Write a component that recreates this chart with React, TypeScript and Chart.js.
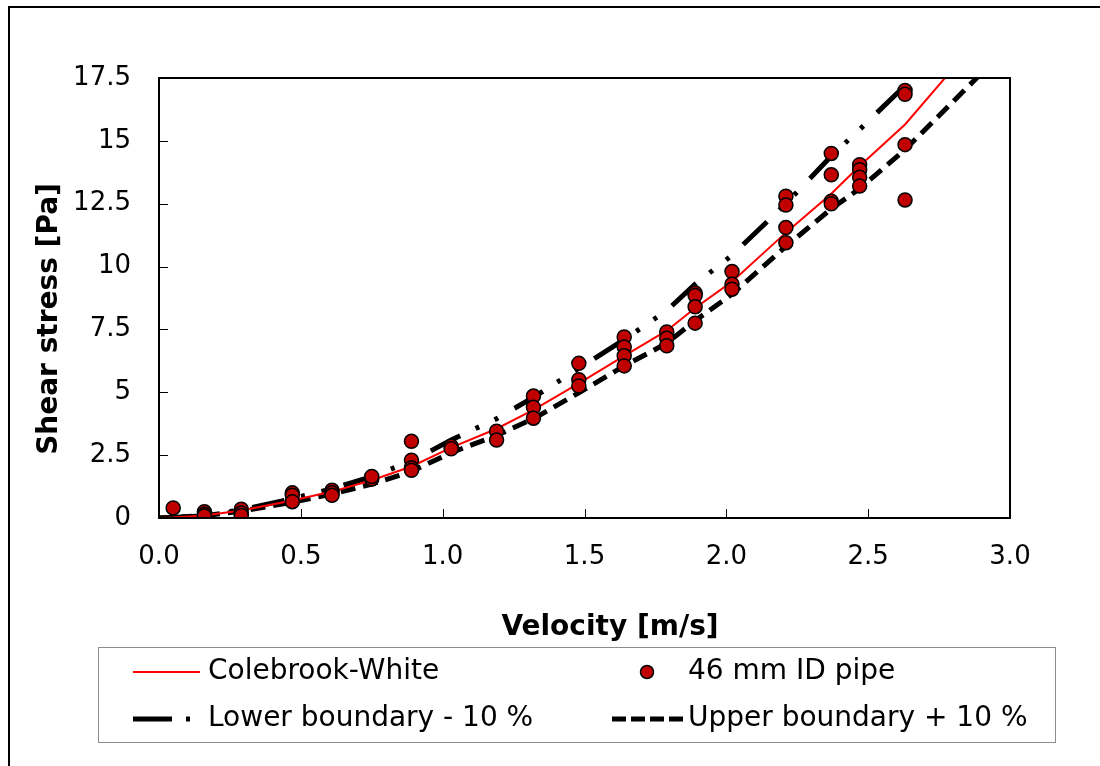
import React, { useEffect, useRef } from "react";
import { Chart, registerables } from "chart.js";

Chart.register(...registerables);

// Model curve velocities [m/s]
const curveVelocity = [0, 0.05, 0.16, 0.29, 0.47, 0.61, 0.75, 0.89, 1.03, 1.19, 1.32, 1.48, 1.64, 1.79, 1.89, 2.02, 2.21, 2.37, 2.47, 2.63, 2.9];
// Colebrook-White prediction [Pa]
const colebrookWhite = [0, 0.02, 0.1, 0.3, 0.7, 1.05, 1.5, 2.05, 2.8, 3.55, 4.3, 5.35, 6.45, 7.45, 8.35, 9.4, 11.35, 12.9, 14.0, 15.65, 19.2];
// "Lower boundary - 10 %" (dash-dot curve)
const lowerBoundary = [0, 0.02, 0.11, 0.33, 0.77, 1.16, 1.65, 2.26, 3.1, 3.95, 4.8, 5.95, 7.1, 8.25, 9.3, 10.45, 12.5, 14.4, 15.45, 17.2, 21.1];
// "Upper boundary + 10 %" (dashed curve)
const upperBoundary = [0, 0.02, 0.09, 0.27, 0.63, 0.95, 1.35, 1.85, 2.6, 3.28, 3.95, 4.98, 6.05, 6.95, 7.85, 8.9, 10.8, 12.3, 13.1, 14.65, 17.7];

// Measured data, 46 mm ID pipe
const pipeVelocity = [
  0.05,
  0.16, 0.16, 0.16,
  0.29, 0.29, 0.29,
  0.47, 0.47, 0.47,
  0.61, 0.61, 0.61,
  0.75, 0.75,
  0.89, 0.89, 0.89, 0.89,
  1.03, 1.03,
  1.19, 1.19,
  1.32, 1.32, 1.32,
  1.48, 1.48, 1.48,
  1.64, 1.64, 1.64, 1.64,
  1.79, 1.79, 1.79,
  1.89, 1.89, 1.89, 1.89,
  2.02, 2.02, 2.02,
  2.21, 2.21, 2.21, 2.21,
  2.37, 2.37, 2.37, 2.37,
  2.47, 2.47, 2.47, 2.47,
  2.63, 2.63, 2.63, 2.63,
];
const pipeShear = [
  0.4,
  0.25, 0.15, 0.08,
  0.35, 0.2, 0.1,
  1.0, 0.9, 0.65,
  1.1, 1.0, 0.9,
  1.55, 1.65,
  3.05, 2.3, 2.0, 1.9,
  2.85, 2.75,
  3.45, 3.1,
  4.85, 4.4, 3.97,
  6.15, 5.5, 5.25,
  7.2, 6.8, 6.45, 6.05,
  7.4, 7.15, 6.85,
  8.95, 8.85, 8.4, 7.75,
  9.8, 9.3, 9.1,
  12.8, 12.45, 11.55, 10.95,
  14.5, 13.65, 12.6, 12.5,
  14.05, 13.85, 13.55, 13.2,
  17.0, 16.85, 14.85, 12.65,
];

const xAxisRange = [0, 3];
const yAxisRange = [0, 17.5];
const xStep = 0.5;
const yStep = 2.5;

const xTitle = "Velocity [m/s]";
const yTitle = "Shear stress [Pa]";
const legendLabels = ["Colebrook-White", "46 mm ID pipe", "Lower boundary - 10 %", "Upper boundary + 10 %"];

const FONT = "'DejaVu Sans', Verdana, sans-serif";
const RED = "#ff0000";
const POINT_FILL = "#c00000";
const DASH_DOT = [33, 17, 4, 17, 4, 19];
const DASHED = [15, 8];

const decorPlugin = {
  id: "decor",
  afterDraw(chart: any) {
    const ctx = chart.ctx as CanvasRenderingContext2D;
    const area = chart.chartArea;
    const xs = chart.scales.x;
    const ys = chart.scales.y;
    ctx.save();

    // outer chart border (top & left visible)
    ctx.fillStyle = "#000";
    ctx.fillRect(8, 6, 1092, 2);
    ctx.fillRect(8, 6, 2, 760);

    // plot area frame
    ctx.strokeStyle = "#000";
    ctx.lineWidth = 2;
    ctx.strokeRect(area.left, area.top, area.right - area.left, area.bottom - area.top);

    // inner tick marks
    ctx.lineWidth = 1;
    ctx.strokeStyle = "#000";
    ctx.beginPath();
    for (const t of ys.ticks) {
      const y = Math.round(ys.getPixelForValue(t.value)) + 0.5;
      ctx.moveTo(area.left, y);
      ctx.lineTo(area.left + 9, y);
    }
    for (const t of xs.ticks) {
      const x = Math.round(xs.getPixelForValue(t.value)) + 0.5;
      ctx.moveTo(x, area.bottom);
      ctx.lineTo(x, area.bottom - 9);
    }
    ctx.stroke();

    // axis titles
    ctx.fillStyle = "#000";
    ctx.font = `bold 28px ${FONT}`;
    ctx.textAlign = "center";
    ctx.textBaseline = "middle";
    ctx.fillText(xTitle, 610, 628);
    ctx.save();
    ctx.translate(50, 319);
    ctx.rotate(-Math.PI / 2);
    ctx.fillText(yTitle, 0, 0);
    ctx.restore();

    // legend box
    ctx.strokeStyle = "#8c8c8c";
    ctx.lineWidth = 1;
    ctx.strokeRect(98.5, 647.5, 957, 95);

    const row1 = 672;
    const row2 = 719;
    ctx.font = `28px ${FONT}`;
    ctx.textAlign = "left";
    ctx.textBaseline = "middle";
    ctx.fillStyle = "#000";

    // Colebrook-White sample
    ctx.strokeStyle = RED;
    ctx.lineWidth = 2;
    ctx.beginPath();
    ctx.moveTo(133, row1);
    ctx.lineTo(200, row1);
    ctx.stroke();
    ctx.fillText(legendLabels[0], 208, row1);

    // pipe marker sample
    ctx.beginPath();
    ctx.arc(647, row1, 6.5, 0, Math.PI * 2);
    ctx.fillStyle = POINT_FILL;
    ctx.fill();
    ctx.lineWidth = 1.5;
    ctx.strokeStyle = "#000";
    ctx.stroke();
    ctx.fillStyle = "#000";
    ctx.fillText(legendLabels[1], 688, row1);

    // dash-dot sample
    ctx.strokeStyle = "#000";
    ctx.lineWidth = 5;
    ctx.beginPath();
    ctx.moveTo(133, row2);
    ctx.lineTo(172, row2);
    ctx.moveTo(186, row2);
    ctx.lineTo(190, row2);
    ctx.stroke();
    ctx.fillText(legendLabels[2], 208, row2);

    // dashed sample
    ctx.setLineDash([14, 5]);
    ctx.beginPath();
    ctx.moveTo(612, row2);
    ctx.lineTo(683, row2);
    ctx.stroke();
    ctx.setLineDash([]);
    ctx.fillText(legendLabels[3], 688, row2);

    ctx.restore();
  },
};

function toXY(xs: number[], ys: number[]) {
  return xs.map((x, i) => ({ x, y: ys[i] }));
}

export default function App() {
  const canvasRef = useRef<HTMLCanvasElement | null>(null);

  useEffect(() => {
    document.body.style.margin = "0";
    const canvas = canvasRef.current;
    if (!canvas) return;
    const chart = new Chart(canvas, {
      type: "scatter",
      data: {
        datasets: [
          {
            label: legendLabels[1],
            data: toXY(pipeVelocity, pipeShear),
            showLine: false,
            pointRadius: 7,
            pointHoverRadius: 7,
            pointBackgroundColor: POINT_FILL,
            pointBorderColor: "#000",
            pointBorderWidth: 1.5,
            order: 0,
          },
          {
            label: legendLabels[0],
            data: toXY(curveVelocity, colebrookWhite),
            showLine: true,
            borderColor: RED,
            borderWidth: 2,
            pointRadius: 0,
            tension: 0,
            clip: 0,
            order: 1,
          },
          {
            label: legendLabels[2],
            data: toXY(curveVelocity, lowerBoundary),
            showLine: true,
            borderColor: "#000",
            borderWidth: 5,
            borderDash: DASH_DOT,
            borderCapStyle: "butt",
            pointRadius: 0,
            tension: 0,
            clip: 0,
            order: 2,
          },
          {
            label: legendLabels[3],
            data: toXY(curveVelocity, upperBoundary),
            showLine: true,
            borderColor: "#000",
            borderWidth: 5,
            borderDash: DASHED,
            borderCapStyle: "butt",
            pointRadius: 0,
            tension: 0,
            clip: 0,
            order: 3,
          },
        ],
      },
      options: {
        animation: false,
        responsive: false,
        maintainAspectRatio: false,
        devicePixelRatio: 1,
        layout: { padding: { left: 0, top: 78, right: 90, bottom: 188 } },
        plugins: {
          legend: { display: false },
          tooltip: { enabled: false },
          title: { display: false },
        },
        scales: {
          x: {
            type: "linear",
            min: xAxisRange[0],
            max: xAxisRange[1],
            ticks: {
              stepSize: xStep,
              padding: 24,
              color: "#000",
              font: { family: FONT, size: 26 },
              callback: (v: any) => Number(v).toFixed(1),
              maxRotation: 0,
            },
            grid: { display: false, drawTicks: false },
            border: { display: false },
            afterFit: (s: any) => {
              s.height = 60;
            },
          },
          y: {
            type: "linear",
            min: yAxisRange[0],
            max: yAxisRange[1],
            ticks: {
              stepSize: yStep,
              padding: 28,
              color: "#000",
              font: { family: FONT, size: 26 },
            },
            grid: { display: false, drawTicks: false },
            border: { display: false },
            afterFit: (s: any) => {
              s.width = 159;
            },
          },
        },
      },
      plugins: [decorPlugin],
    });
    return () => chart.destroy();
  }, []);

  return (
    <div style={{ position: "fixed", left: 0, top: 0, width: 1100, height: 766, background: "#fff" }}>
      <canvas ref={canvasRef} width={1100} height={766} />
    </div>
  );
}
